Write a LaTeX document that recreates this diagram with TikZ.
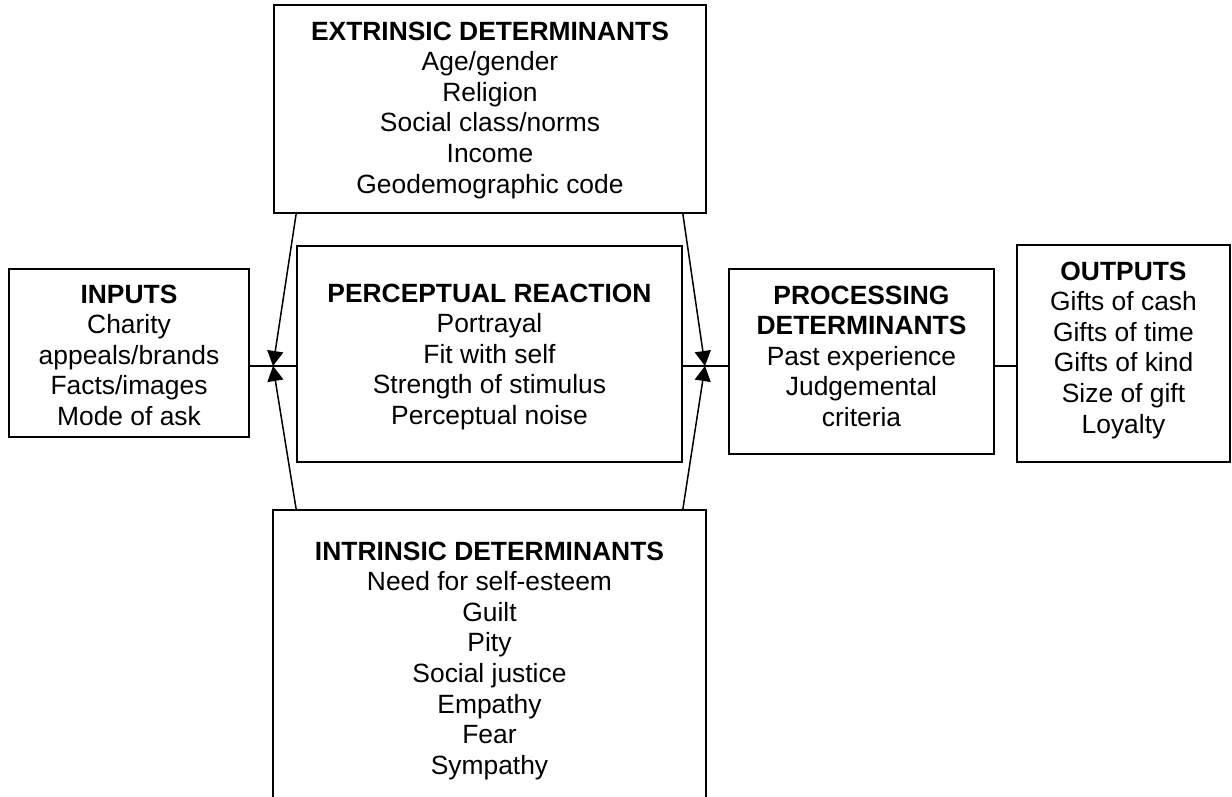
\documentclass[tikz,border=0pt]{standalone}
\usepackage{fontspec}
\setmainfont{Liberation Sans}
\usetikzlibrary{arrows.meta,calc}
\newcommand\boxlines[1]{\begin{tabular}[t]{@{}c@{}}#1\end{tabular}}
\begin{document}
\begin{tikzpicture}[x=1pt,y=-1pt,
  diagbox/.style={draw, line width=1.7pt, inner sep=0pt},
  diagtext/.style={anchor=base, inner sep=0pt, font=\fontsize{26.4}{30.6}\selectfont},
  diagline/.style={line width=1.5pt},
  diagarrow/.style={line width=1.5pt, -{Triangle[length=15pt,width=16pt]}}]
\path[use as bounding box] (0,0) rectangle (1232,796);
\clip (0,0) rectangle (1232,796);
% boxes
\node[diagbox, minimum width=432pt, minimum height=208pt] (ext) at (490,109) {};
\node[diagbox, minimum width=240pt, minimum height=168pt] (inp) at (129,353) {};
\node[diagbox, minimum width=385pt, minimum height=216pt] (perc) at (489.5,354) {};
\node[diagbox, minimum width=265pt, minimum height=185pt] (proc) at (861.5,361.5) {};
\node[diagbox, minimum width=213pt, minimum height=217pt] (out) at (1123.5,353.5) {};
\node[diagbox, minimum width=433pt, minimum height=310pt] (int) at (489.5,665) {};
% texts
\node[diagtext] (extT) at (490,40) {\boxlines{\textbf{EXTRINSIC DETERMINANTS}\\Age/gender\\Religion\\Social class/norms\\Income\\Geodemographic code}};
\node[diagtext] (inpT) at (129,303) {\boxlines{\textbf{INPUTS}\\Charity\\appeals/brands\\Facts/images\\Mode of ask}};
\node[diagtext] (percT) at (489.5,302) {\boxlines{\textbf{PERCEPTUAL REACTION}\\Portrayal\\Fit with self\\Strength of stimulus\\Perceptual noise}};
\node[diagtext] (procT) at (861.5,304) {\boxlines{\textbf{PROCESSING}\\\textbf{DETERMINANTS}\\Past experience\\Judgemental\\criteria}};
\node[diagtext] (outT) at (1123.5,280) {\boxlines{\textbf{OUTPUTS}\\Gifts of cash\\Gifts of time\\Gifts of kind\\Size of gift\\Loyalty}};
\node[diagtext] (intT) at (489.5,560) {\boxlines{\textbf{INTRINSIC DETERMINANTS}\\Need for self-esteem\\Guilt\\Pity\\Social justice\\Empathy\\Fear\\Sympathy}};
% junctions
\coordinate (jl) at (273,366);
\coordinate (jr) at (705,366);
% connectors
\draw[diagline] (inp.east |- jl) -- (perc.west |- jl);
\draw[diagline] (perc.east |- jr) -- (proc.west |- jr);
\draw[diagline] (proc.east |- jr) -- (out.west |- jr);
\draw[diagarrow] (perc.west |- ext.south) -- (jl);
\draw[diagarrow] (perc.west |- int.north) -- (jl);
\draw[diagarrow] (perc.east |- ext.south) -- (jr);
\draw[diagarrow] (perc.east |- int.north) -- (jr);
\end{tikzpicture}
\end{document}
